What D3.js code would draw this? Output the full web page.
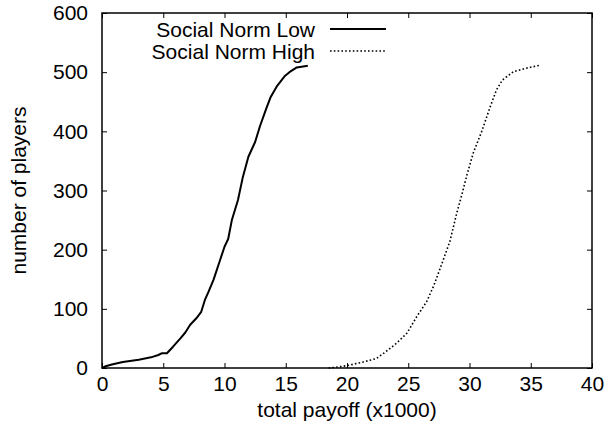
<!DOCTYPE html>
<html>
<head>
<meta charset="utf-8">
<script src="https://cdn.jsdelivr.net/npm/d3@7"></script>
<style>
  html, body { margin: 0; padding: 0; background: #fff; }
  svg { display: block; }
  text { font-family: "Liberation Sans", Arial, Helvetica, sans-serif; fill: #000; }
</style>
</head>
<body>
<svg id="chart" width="608" height="438"></svg>
<script>
// Cumulative count of players by total payoff (thousands)
const lowPayoff = [0, 0.3, 0.8, 1.7, 3, 4, 4.6, 4.9, 5.3, 5.8, 6.4, 6.8, 7.2, 7.7, 8.1, 8.4, 8.7, 9.1, 9.6, 10.0, 10.3, 10.6, 11.1, 11.5, 11.95, 12.5, 12.9, 13.4, 13.75, 14.3, 14.9, 15.3, 15.9, 16.8];
const lowPlayers = [0, 3, 6, 10, 14, 18, 22, 25, 25, 36, 50, 60, 73, 84, 95, 115, 129, 149, 180, 205, 218, 250, 284, 323, 357, 382, 409, 438, 457, 477, 493, 500, 508, 511];

const highPayoff = [18.5, 19.0, 20.0, 21.3, 22.4, 23.2, 24.05, 24.9, 25.7, 26.5, 27.1, 27.6, 28.4, 28.95, 29.4, 29.8, 30.3, 31.0, 31.7, 32.2, 32.7, 33.6, 34.7, 35.8];
const highPlayers = [0, 1, 4, 10, 16, 28, 42, 59, 87, 112, 140, 168, 214, 261, 295, 327, 363, 400, 442, 470, 487, 501, 507, 512];

const xTicks = [0, 5, 10, 15, 20, 25, 30, 35, 40];
const yTicks = [0, 100, 200, 300, 400, 500, 600];
const seriesNames = ["Social Norm Low", "Social Norm High"];

const svg = d3.select("#chart");
const plot = { left: 102, right: 592, top: 13, bottom: 368 };

const x = d3.scaleLinear().domain([0, 40]).range([plot.left, plot.right]);
const y = d3.scaleLinear().domain([0, 600]).range([plot.bottom, plot.top]);

const tickLen = 5;
const fontSize = 21;

// Inward ticks on all four sides (mirrored)
const gBottom = svg.append("g").attr("transform", `translate(0,${plot.bottom})`)
  .call(d3.axisBottom(x).tickValues(xTicks).tickSize(-tickLen).tickPadding(8).tickFormat(d3.format("d")));
const gTop = svg.append("g").attr("transform", `translate(0,${plot.top})`)
  .call(d3.axisTop(x).tickValues(xTicks).tickSize(-tickLen).tickFormat(""));
const gLeft = svg.append("g").attr("transform", `translate(${plot.left},0)`)
  .call(d3.axisLeft(y).tickValues(yTicks).tickSize(-tickLen).tickPadding(14).tickFormat(d3.format("d")));
const gRight = svg.append("g").attr("transform", `translate(${plot.right},0)`)
  .call(d3.axisRight(y).tickValues(yTicks).tickSize(-tickLen).tickFormat(""));

[gBottom, gTop, gLeft, gRight].forEach(g => {
  g.select(".domain").remove();
  g.selectAll(".tick line").attr("stroke", "#000").attr("stroke-width", 1);
  g.selectAll(".tick text").style("font-size", fontSize + "px").attr("fill", "#000");
});

// Frame
svg.append("rect")
  .attr("x", plot.left).attr("y", plot.top)
  .attr("width", plot.right - plot.left).attr("height", plot.bottom - plot.top)
  .attr("fill", "none").attr("stroke", "#000").attr("stroke-width", 1.5);

// Axis titles
svg.append("text")
  .attr("x", (plot.left + plot.right) / 2).attr("y", 417)
  .attr("text-anchor", "middle").style("font-size", fontSize + "px")
  .text("total payoff (x1000)");
svg.append("text")
  .attr("transform", `translate(26,${(plot.top + plot.bottom) / 2}) rotate(-90)`)
  .attr("text-anchor", "middle").style("font-size", fontSize + "px")
  .text("number of players");

// Curves
const line = d3.line().x(d => x(d[0])).y(d => y(d[1])).curve(d3.curveLinear);
const lowData = lowPayoff.map((v, i) => [v, lowPlayers[i]]);
const highData = highPayoff.map((v, i) => [v, highPlayers[i]]);

svg.append("path").datum(lowData).attr("d", line)
  .attr("fill", "none").attr("stroke", "#000").attr("stroke-width", 2)
  .attr("stroke-linejoin", "round");
svg.append("path").datum(highData).attr("d", line)
  .attr("fill", "none").attr("stroke", "#000").attr("stroke-width", 1.6)
  .attr("stroke-dasharray", "1.6,2.2");

// Legend
const legend = svg.append("g");
const legendRows = [
  { name: seriesNames[0], dash: null, width: 2, yPos: 29 },
  { name: seriesNames[1], dash: "1.6,2.2", width: 1.6, yPos: 51 }
];
legendRows.forEach(r => {
  legend.append("text")
    .attr("x", 315).attr("y", r.yPos + 7.5)
    .attr("text-anchor", "end").style("font-size", fontSize + "px")
    .text(r.name);
  legend.append("line")
    .attr("x1", 330).attr("x2", 386).attr("y1", r.yPos).attr("y2", r.yPos)
    .attr("stroke", "#000").attr("stroke-width", r.width)
    .attr("stroke-dasharray", r.dash);
});
</script>
</body>
</html>
